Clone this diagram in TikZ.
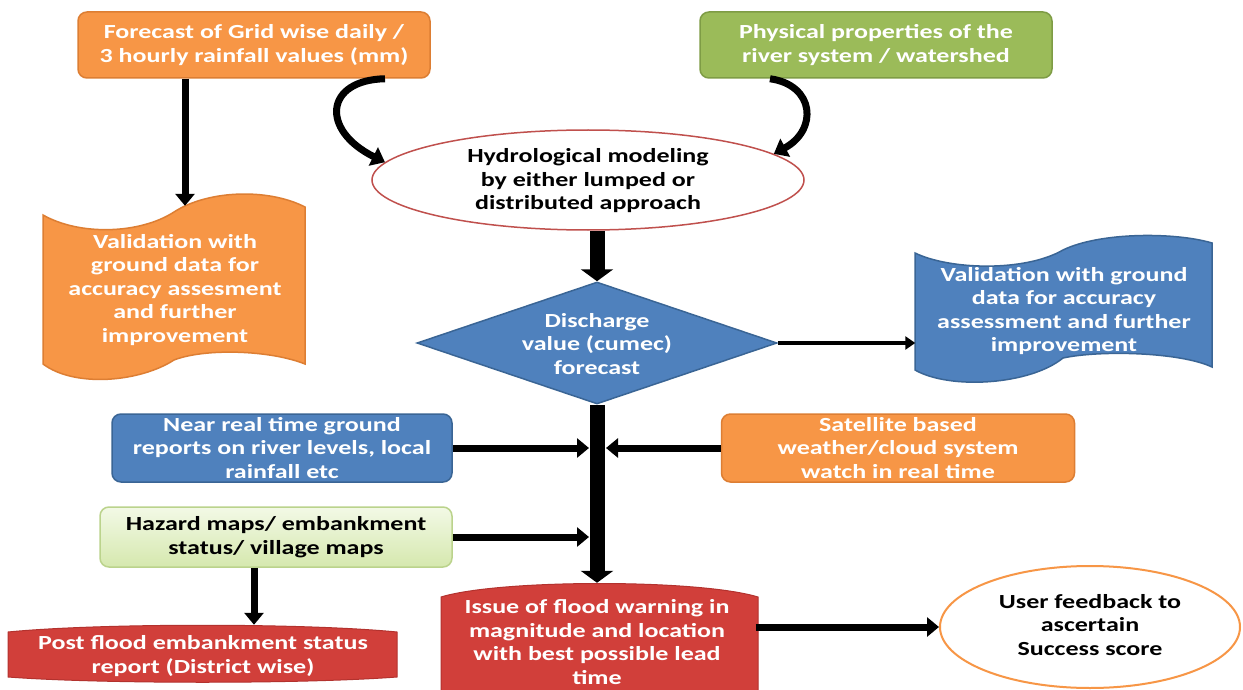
\documentclass[tikz,border=0pt]{standalone}
\usepackage{fontspec}
\setmainfont{Carlito}[FakeStretch=1.3]
\usetikzlibrary{arrows.meta,shapes.geometric,calc}
\definecolor{cOr}{HTML}{F79646}
\definecolor{cOrB}{HTML}{DD7E33}
\definecolor{cBl}{HTML}{4F81BD}
\definecolor{cBlB}{HTML}{3A6595}
\definecolor{cGr}{HTML}{9BBB59}
\definecolor{cGrB}{HTML}{7E9C45}
\definecolor{cRd}{HTML}{D13F3A}
\definecolor{cRdB}{HTML}{B3322E}
\definecolor{cHzT}{HTML}{F3F9E6}
\definecolor{cHzB}{HTML}{D5E8AE}
\definecolor{cHzL}{HTML}{BBD38C}
\definecolor{cElR}{HTML}{C0504D}
\begin{document}
\begin{tikzpicture}[x=1pt,y=-1pt,
  font=\fontsize{20}{23.5}\selectfont\bfseries,
  txt/.style={align=center, inner sep=0pt},
  wtxt/.style={txt, text=white},
  btxt/.style={txt, text=black},
  rbox/.style={rounded corners=9pt, line width=1.5pt, inner sep=0pt, align=center},
  orbox/.style={rbox, fill=cOr, draw=cOrB, text=white},
  blbox/.style={rbox, fill=cBl, draw=cBlB, text=white},
  grbox/.style={rbox, fill=cGr, draw=cGrB, text=white},
  hzbox/.style={rbox, top color=cHzT, bottom color=cHzB, draw=cHzL, text=black},
  tapeOr/.style={fill=cOr, draw=cOrB, line width=1.5pt},
  tapeBl/.style={fill=cBl, draw=cBlB, line width=1.5pt},
  banner/.style={fill=cRd, draw=cRdB, line width=1pt},
  arrBig/.style={line width=15pt, -{Triangle[length=12pt,width=32pt]}},
  arrMid/.style={line width=7pt, -{Triangle[length=12pt,width=19pt]}},
  arrThin/.style={line width=4.5pt, -{Triangle[length=10pt,width=13pt]}},
  arrCurve/.style={line width=7pt, -{Triangle[length=13pt,width=20pt]}},
]
\useasboundingbox[fill=white] (0,0) rectangle (1243,690);

% top boxes
\node[orbox, minimum width=352pt, minimum height=66pt] (fc) at (254,45)
  {Forecast of Grid wise daily /\\3 hourly rainfall values (mm)};
\node[grbox, minimum width=352pt, minimum height=66pt] (pp) at (876,45)
  {Physical properties of the\\river system / watershed};

% hydrological ellipse
\node[ellipse, draw=cElR, fill=white, line width=1.5pt, minimum width=432pt,
      minimum height=100pt, inner sep=0pt] (hyd) at (588,180) {};
\node[btxt] (hydT) at (588,181)
  {Hydrological modeling\\by either lumped or\\distributed approach};

% left tape
\path[tapeOr] (43,215) .. controls (80,236) and (140,234) .. (174,212)
  .. controls (208,190) and (268,188) .. (305,207) -- (305,364)
  .. controls (270,350) and (205,348) .. (174,360)
  .. controls (140,382) and (75,388) .. (43,364) -- cycle;
\node[wtxt, minimum width=262pt, minimum height=176pt] (vl) at (175,290)
  {Validation with\\ground data for\\accuracy assesment\\and further\\improvement};

% diamond
\node[diamond, draw=cBlB, fill=cBl, line width=1.5pt, minimum width=360pt,
      minimum height=122pt, inner sep=0pt] (dis) at (597,343) {};
\node[wtxt] (disT) at (597,344) {Discharge\\value (cumec)\\forecast};

% right tape
\path[tapeBl] (915,253) .. controls (950,270) and (1025,272) .. (1063,250)
  .. controls (1100,232) and (1175,232) .. (1212,243) -- (1212,367)
  .. controls (1180,352) and (1100,350) .. (1063,358)
  .. controls (1030,385) and (950,390) .. (915,370) -- cycle;
\node[wtxt, minimum width=297pt, minimum height=140pt] (vr) at (1064,311)
  {Validation with ground\\data for accuracy\\assessment and further\\improvement};

% side inputs
\node[blbox, minimum width=340pt, minimum height=68pt] (nrt) at (282,448)
  {Near real time ground\\reports on river levels, local\\rainfall etc};
\node[orbox, minimum width=353pt, minimum height=68pt] (sat) at (898,448)
  {Satellite based\\weather/cloud system\\watch in real time};
\node[hzbox, minimum width=352pt, minimum height=60pt] (haz) at (276,537)
  {Hazard maps/ embankment\\status/ village maps};

% post flood banner
\path[banner] (8,632) .. controls (100,623) and (305,623) .. (397,632)
  -- (397,677) .. controls (305,684) and (100,684) .. (8,677) -- cycle;
\node[wtxt, minimum width=389pt, minimum height=62pt] (post) at (203,656)
  {Post flood embankment status\\report (District wise)};

% issue banner
\path[banner] (441,705) -- (441,597) .. controls (500,579) and (699,579) .. (758,597)
  -- (758,705) -- cycle;
\node[wtxt, minimum width=317pt, minimum height=118pt] (issue) at (597,642)
  {Issue of flood warning in\\magnitude and location\\with best possible lead\\time};

% feedback ellipse
\node[ellipse, draw=cOr, fill=white, line width=2pt, minimum width=300pt,
      minimum height=122pt, inner sep=0pt] (fb) at (1090,627) {};
\node[btxt] (fbT) at (1090,625) {User feedback to\\ascertain\\Success score};

% connectors
\draw[arrCurve] ($(fc.south)+(131,0)$) .. controls (325,80) and (320,130) .. (hyd.175);
\draw[arrCurve] ($(pp.south)+(-106,0)$) .. controls (815,85) and (818,130) .. (hyd.8);
\draw[arrMid] ($(fc.south)+(-69,0)$) -- ($(vl.north)+(10,4)$);
\draw[arrBig] (hyd.south -| dis.north) -- (dis.north);
\draw[arrThin] (dis.east) -- (dis.east -| vr.west);
\draw[arrBig] (dis.south) -- (issue.north);
\draw[arrMid] (nrt.east) -- ($(nrt.east -| dis.south)+(-8,0)$);
\draw[arrMid] (sat.west) -- ($(sat.west -| dis.south)+(9,0)$);
\draw[arrMid] (haz.east) -- ($(haz.east -| dis.south)+(-8,0)$);
\draw[arrMid] ($(haz.south)+(-22,0)$) -- ($(post.north)+(51,0)$);
\draw[arrMid] (issue.east |- fb.west) -- (fb.west);
\end{tikzpicture}
\end{document}
